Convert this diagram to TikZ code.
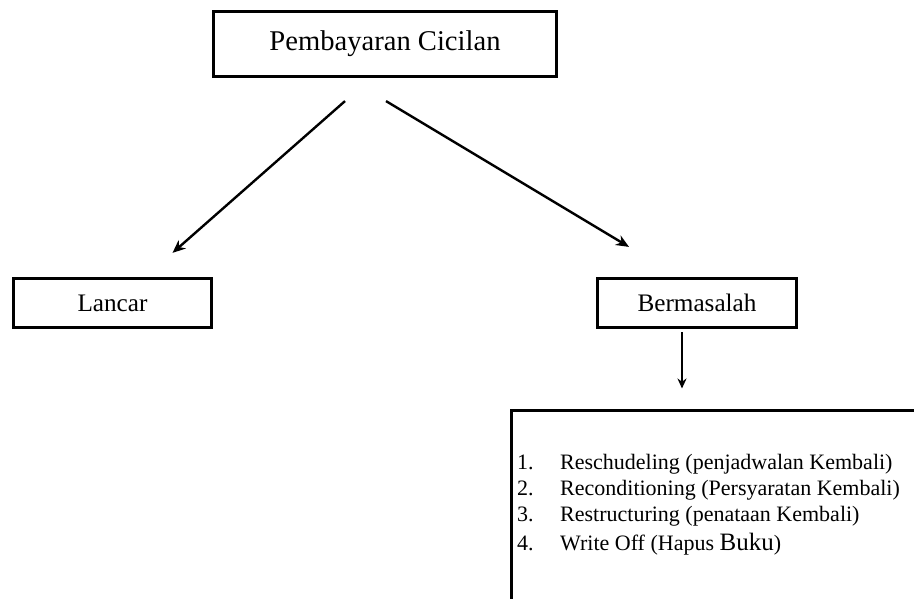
\documentclass[tikz,border=0pt]{standalone}
\usepackage{fontspec}
\setmainfont{Liberation Serif}
\usepackage{tikz}
\usetikzlibrary{shapes, arrows.meta, positioning}

\tikzset{
  kotak/.style={draw, line width=3.2pt, rectangle, inner sep=0pt},
  panah/.style={line width=2.4pt, -{Stealth[length=13pt,width=11pt]}},
  butir/.style={inner sep=0pt, anchor=base west, font=\fontsize{22}{26}\selectfont}
}

\begin{document}
\begin{tikzpicture}[x=1pt, y=-1pt]
				\useasboundingbox (0,0) rectangle (914,599);
				% kotak utama
				\node[kotak, minimum width=343pt, minimum height=65pt, font=\fontsize{28.6}{34}\selectfont] (cicilan) at (385,44) {Pembayaran Cicilan};
				\node[kotak, minimum width=198pt, minimum height=49pt, font=\fontsize{25.2}{30}\selectfont] (lancar) at (112.5,303) {Lancar};
				\node[kotak, minimum width=199pt, minimum height=49pt, font=\fontsize{25.2}{30}\selectfont] (masalah) at (697,303) {Bermasalah};
				% kotak daftar (terpotong di kanan dan bawah)
				\node[kotak, anchor=north west, minimum width=460pt, minimum height=260pt] (daftar) at (509.5,408.5) {};
				\node[butir] (b1) at (517,469) {\makebox[43pt][l]{1.}Reschudeling (penjadwalan Kembali)};
				\node[butir] (b2) at (517,495) {\makebox[43pt][l]{2.}Reconditioning (Persyaratan Kembali)};
				\node[butir] (b3) at (517,521) {\makebox[43pt][l]{3.}Restructuring (penataan Kembali)};
				\node[butir] (b4) at (517,550) {\makebox[43pt][l]{4.}Write Off (Hapus {\fontsize{25}{30}\selectfont Buku})};
				% panah
				\draw[panah] ([shift={(-40,23)}]cicilan.south) -- ([shift={(60,-24)}]lancar.north);
				\draw[panah] ([shift={(1,23)}]cicilan.south) -- ([shift={(-68,-30)}]masalah.north);
				\draw[line width=1.8pt, -{Stealth[length=10pt,width=9pt]}] ([shift={(-15,3)}]masalah.south) -- ([shift={(172.5,-20)}]daftar.north west);
			\end{tikzpicture}
\end{document}
